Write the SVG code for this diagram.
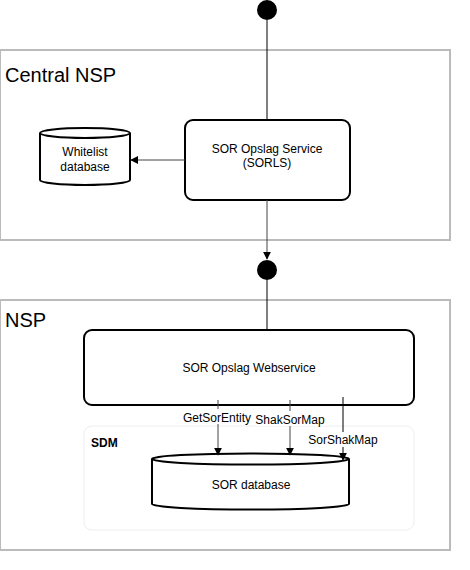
<svg xmlns="http://www.w3.org/2000/svg" width="470" height="570" viewBox="0 0 470 570">
<style>
.c{fill:#fff;stroke:#bbb;stroke-width:2}
.n{fill:#fff;stroke:#000;stroke-width:2}
.t{font-family:"Liberation Sans",Arial,sans-serif;font-size:12px;fill:#000;text-anchor:middle}
.big{font-family:"Liberation Sans",Arial,sans-serif;font-size:20px;fill:#000}
.l{stroke:#000;stroke-width:1;fill:none}
.g{stroke:#444;stroke-width:1;fill:none}
</style>
<defs>
<marker id="a" viewBox="0 0 10 10" refX="9" refY="5" markerWidth="8" markerHeight="8" markerUnits="userSpaceOnUse" orient="auto"><path d="M0,0 L10,5 L0,10 z" fill="#000"/></marker>
</defs>
<g id="central-nsp"><rect class="c" x="0" y="50" width="450" height="190"/><text class="big" x="5" y="82">Central NSP</text></g>
<g id="nsp"><rect class="c" x="0" y="300" width="450" height="250"/><text class="big" x="5" y="327">NSP</text></g>
<g id="sdm"><rect x="84" y="426" width="330" height="104" rx="8" fill="#fff" stroke="#eee" stroke-width="1"/><text x="91" y="447" font-family="Liberation Sans,Arial,sans-serif" font-size="12" font-weight="bold">SDM</text></g>
<g id="start"><circle cx="267" cy="10" r="10" fill="#000"/></g>
<g id="junction"><circle cx="267" cy="270" r="10" fill="#000"/></g>
<g id="sorls"><rect class="n" x="185" y="120" width="165" height="80" rx="8"/><text class="t" x="267" y="153">SOR Opslag Service</text><text class="t" x="267" y="167">(SORLS)</text></g>
<g id="whitelist"><path class="n" d="M40,133 A45,5 0 0 1 130,133 L130,180 A45,5 0 0 1 40,180 Z"/><path class="n" d="M40,133 A45,5 0 0 0 130,133" fill="none"/><text class="t" x="85" y="156">Whitelist</text><text class="t" x="85" y="171">database</text></g>
<g id="webservice"><rect class="n" x="84" y="330" width="330" height="75" rx="8"/><text class="t" x="249" y="372">SOR Opslag Webservice</text></g>
<g id="sordb"><path class="n" d="M152,459 A98.5,5.5 0 0 1 349,459 L349,504 A98.5,5.5 0 0 1 152,504 Z"/><path class="n" d="M152,459 A98.5,5.5 0 0 0 349,459" fill="none"/><text class="t" x="251" y="489">SOR database</text></g>
<g id="connectors">
<line class="l" x1="267" y1="20" x2="267" y2="120"/>
<line class="g" x1="185" y1="160" x2="131" y2="160" marker-end="url(#a)"/>
<line class="g" x1="267" y1="200" x2="267" y2="259" marker-end="url(#a)"/>
<line class="l" x1="267" y1="280" x2="267" y2="330"/>
<line class="g" x1="218" y1="400" x2="218" y2="455" marker-end="url(#a)"/>
<line class="g" x1="290" y1="400" x2="290" y2="455" marker-end="url(#a)"/>
<line class="l" x1="343" y1="397" x2="343" y2="460" marker-end="url(#a)"/>
<rect x="182" y="409" width="72" height="15" fill="#fff"/>
<text class="t" x="217" y="422">GetSorEntity</text>
<rect x="255" y="411" width="70" height="15" fill="#fff"/>
<text class="t" x="290" y="424">ShakSorMap</text>
<rect x="308" y="432" width="70" height="15" fill="#fff"/>
<text class="t" x="343" y="444">SorShakMap</text>
</g>
</svg>
